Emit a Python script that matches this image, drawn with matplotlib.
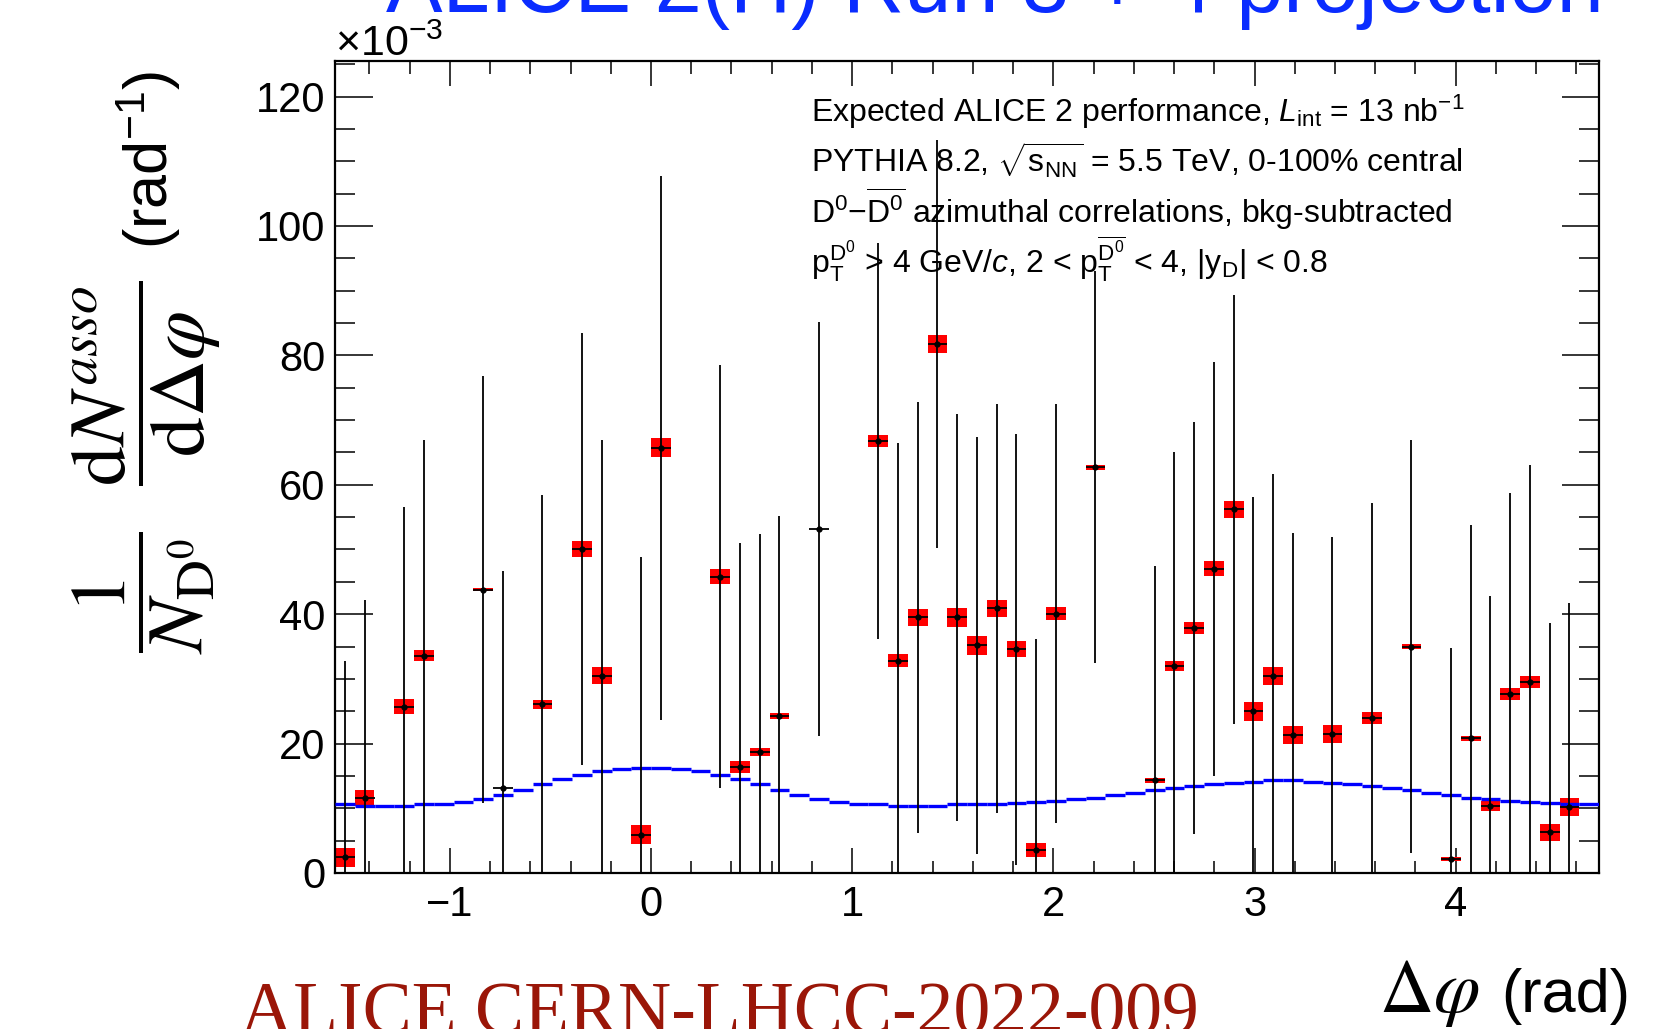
import numpy as np
import matplotlib
matplotlib.use("Agg")
import matplotlib.pyplot as plt
from matplotlib.ticker import MultipleLocator

plt.rcParams['font.family'] = ['Liberation Sans', 'DejaVu Sans']
plt.rcParams['mathtext.fontset'] = 'custom'
plt.rcParams['mathtext.rm'] = 'Liberation Sans'
plt.rcParams['mathtext.it'] = 'Liberation Sans:italic'
plt.rcParams['mathtext.bf'] = 'Liberation Sans:bold'

# 64 bins in delta phi from -pi/2 to 3pi/2, values in units of 1e-3
nbins = 64
edges = np.linspace(-np.pi / 2, 3 * np.pi / 2, nbins + 1)
width = edges[1] - edges[0]

# filled bins (index), value, stat error, syst half-height
bin_idx = [0, 1, 3, 4, 7, 8, 10, 12, 13, 15, 16, 19, 20, 21, 22, 24,
           27, 28, 29, 30, 31, 32, 33, 34, 35, 36, 38, 41, 42, 43, 44, 45,
           46, 47, 48, 50, 52, 54, 56, 57, 58, 59, 60, 61, 62]
values = [2.4, 11.6, 25.7, 33.6, 43.8, 13.2, 26.1, 50.1, 30.5, 5.9, 65.7, 45.8, 16.4, 18.7, 24.3, 53.1,
          66.8, 32.8, 39.5, 81.8, 39.5, 35.2, 40.9, 34.6, 3.6, 40.1, 62.7, 14.3, 32.0, 37.9, 47.0, 56.2,
          25.0, 30.5, 21.3, 21.5, 24.0, 35.0, 2.1, 20.8, 10.4, 27.7, 29.5, 6.3, 10.2]
stat_err = [30.3, 30.6, 30.8, 33.4, 33.0, 33.5, 32.3, 33.4, 36.4, 43.0, 42.0, 32.7, 34.6, 33.7, 30.9, 32.0,
            30.6, 33.6, 33.3, 31.5, 31.4, 32.2, 31.6, 33.3, 32.5, 32.4, 30.3, 33.2, 33.0, 31.8, 32.0, 33.2,
            33.1, 31.2, 31.3, 30.4, 33.2, 31.9, 32.7, 33.0, 32.4, 31.0, 33.5, 32.4, 31.6]
syst_err = [1.44, 1.24, 1.13, 0.9, 0.18, 0.0, 0.7, 1.2, 1.34, 1.47, 1.47, 1.16, 0.93, 0.62, 0.44, 0.0,
            0.95, 1.0, 1.34, 1.37, 1.47, 1.47, 1.34, 1.24, 1.1, 0.95, 0.41, 0.46, 0.72, 0.9, 1.16, 1.26,
            1.44, 1.39, 1.41, 1.34, 0.93, 0.41, 0.31, 0.41, 0.77, 0.9, 0.98, 1.31, 1.44]

# PYTHIA expectation (blue), all 64 bins
pythia = [10.6, 10.4, 10.4, 10.4, 10.6, 10.6, 11.0, 11.4, 12.1, 12.9, 13.7, 14.5, 15.1, 15.8, 16.0, 16.2,
          16.2, 16.0, 15.8, 15.1, 14.5, 13.7, 12.9, 12.1, 11.4, 11.0, 10.6, 10.6, 10.4, 10.4, 10.4, 10.6,
          10.6, 10.6, 10.8, 11.0, 11.2, 11.4, 11.6, 12.1, 12.3, 12.8, 13.1, 13.5, 13.7, 13.9, 14.1, 14.3,
          14.3, 14.1, 13.9, 13.7, 13.5, 13.1, 12.8, 12.3, 12.1, 11.6, 11.4, 11.2, 11.0, 10.8, 10.6, 10.6]

centers = 0.5 * (edges[:-1] + edges[1:])
xpts = centers[bin_idx]
vals = np.array(values)
syst = np.array(syst_err)

W, H = 1670, 1029
fig = plt.figure(figsize=(W / 100, H / 100), dpi=100)
ax = fig.add_axes([335 / W, 1 - 873 / H, 1264 / W, 812 / H])

ax.bar(xpts, 2 * syst, bottom=vals - syst, width=width, color='red', edgecolor='none', zorder=2)
ax.hlines(pythia, edges[:-1], edges[1:], colors='blue', lw=2.4, zorder=3)
ax.errorbar(xpts, vals, yerr=stat_err, xerr=width / 2, fmt='o', ms=3.5, color='k',
            elinewidth=1.3, capsize=0, zorder=4)

ax.set_xlim(edges[0], edges[-1])
ax.set_ylim(0, 125.5)
ax.xaxis.set_major_locator(MultipleLocator(1))
ax.xaxis.set_minor_locator(MultipleLocator(0.2))
ax.yaxis.set_major_locator(MultipleLocator(20))
ax.yaxis.set_minor_locator(MultipleLocator(5))
ax.tick_params(which='both', direction='in', top=True, right=True, width=1.1)
ax.tick_params(axis='x', which='major', length=18, labelsize=30, pad=9)
ax.tick_params(axis='x', which='minor', length=9)
ax.tick_params(axis='y', which='major', length=27, labelsize=30, pad=7)
ax.tick_params(axis='y', which='minor', length=14.5)
for s in ax.spines.values():
    s.set_linewidth(1.6)

# multiplier
fig.text(335 / W, 1 - 56 / H, r'$\times$10$^{-3}$', fontsize=31, ha='left', va='baseline')

# annotation block
lines = [
    r'Expected ALICE 2 performance, $\mathit{L}_{\mathrm{int}}$ = 13 nb$^{-1}$',
    r'PYTHIA 8.2, $\sqrt{\mathrm{s}_{\mathrm{NN}}}$ = 5.5 TeV, 0-100% central',
    r'D$^{0}$$-$$\overline{\mathrm{D}^{0}}$ azimuthal correlations, bkg-subtracted',
    r'p$_{\mathrm{T}}^{\mathrm{D}^{0}}$ > 4 GeV/$\mathit{c}$, 2 < p$_{\mathrm{T}}^{\overline{\mathrm{D}^{0}}}$ < 4, |y$_{\mathrm{D}}$| < 0.8',
]
baselines = [121.7, 172.3, 223.0, 273.3]
for txt, yb in zip(lines, baselines):
    fig.text(811 / W, 1 - yb / H, txt, fontsize=23, ha='left', va='baseline')

# title, cut at top edge
fig.text(386 / W, 1 - 12 / H, 'ALICE 2(H) Run 3 + 4 projection', fontsize=61,
         color='#0a2cff', ha='left', va='baseline')

# bottom reference text, cut at bottom edge
fig.text(240 / W, 1 - 1033 / H, 'ALICE CERN-LHCC-2022-009', fontsize=53,
         family='Liberation Serif', color='#9a1608', ha='left', va='baseline')

# y label
fig.text(146 / W, 1 - 467 / H,
         r'$\dfrac{1}{N_{\mathrm{D^0}}}\ \ \dfrac{\mathrm{d}N^{asso}}{\mathrm{d}\Delta\varphi}$',
         fontsize=57, math_fontfamily='stix', rotation=90, ha='center', va='center')
fig.text(149 / W, 1 - 160 / H, r'(rad$^{-1}$)', fontsize=44, rotation=90,
         ha='center', va='center')

# x label
fig.text(1379 / W, 1 - 1012 / H, r'$\Delta\varphi$', fontsize=54, math_fontfamily='stix',
         ha='left', va='baseline')
fig.text(1630 / W, 1 - 1012 / H, '(rad)', fontsize=44, ha='right', va='baseline')

fig.savefig('out.png', dpi=100)
